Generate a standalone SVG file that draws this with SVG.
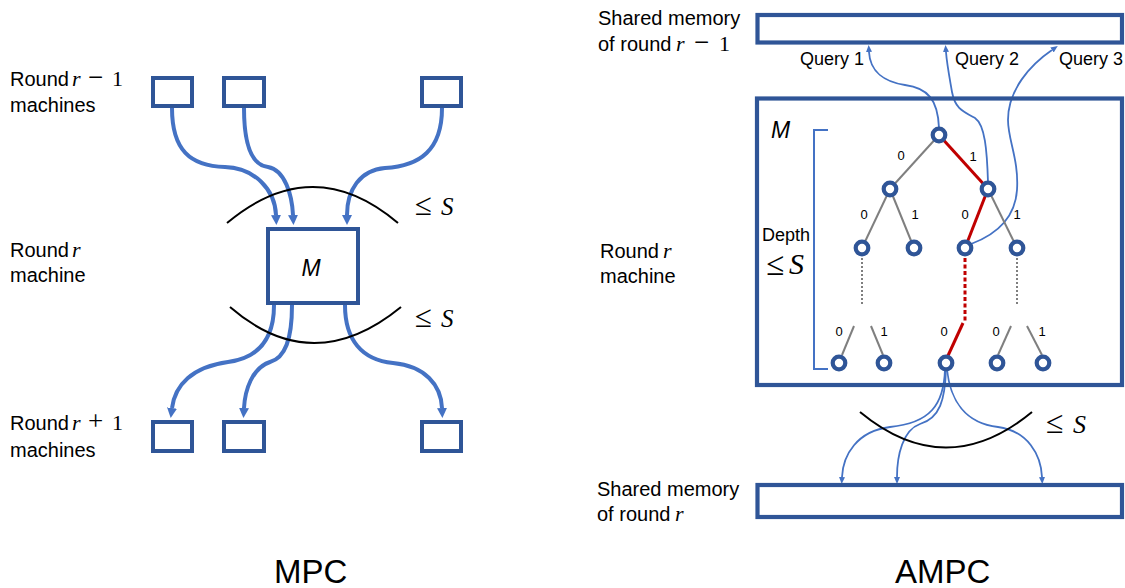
<svg xmlns="http://www.w3.org/2000/svg" width="1125" height="588" viewBox="0 0 1125 588">
<style>
.t{font-family:"Liberation Sans",Arial,sans-serif;font-size:20px;fill:#000}
.m{font-family:"Liberation Serif","Times New Roman",serif;font-style:italic;font-size:22px}
.mn{font-family:"Liberation Serif","Times New Roman",serif;font-style:normal;font-size:22px}
.op{font-family:"Liberation Serif","Times New Roman",serif;font-style:normal;font-size:27px}
.le{font-family:"Liberation Serif","Times New Roman",serif;font-size:31px;fill:#000}
.s{font-family:"Liberation Serif","Times New Roman",serif;font-style:italic;font-size:25px;fill:#000}
.q{font-family:"Liberation Sans",Arial,sans-serif;font-size:18px;fill:#000}
.d{font-family:"Liberation Sans",Arial,sans-serif;font-size:13px;fill:#000;text-anchor:middle}
.title{font-family:"Liberation Sans",Arial,sans-serif;font-size:33px;fill:#000}
.mi{font-family:"Liberation Sans",Arial,sans-serif;font-style:italic;font-size:23px;fill:#000}
.box{fill:none;stroke:#2F5597;stroke-width:4}
.big{fill:none;stroke:#2F5597;stroke-width:4.2}
.thick{fill:none;stroke:#4472C4;stroke-width:4}
.thin{fill:none;stroke:#4472C4;stroke-width:1.8}
.arc{fill:none;stroke:#000;stroke-width:2}
.g{stroke:#7F7F7F;stroke-width:2;fill:none}
.r{stroke:#C00000;stroke-width:3;fill:none}
.node{fill:#fff;stroke:#2F5597;stroke-width:4.2}
</style>
<defs>
<marker id="ah" viewBox="0 0 10 10" refX="0" refY="5" markerWidth="10" markerHeight="10" markerUnits="userSpaceOnUse" orient="auto"><path d="M0,0 L10,5 L0,10 z" fill="#4472C4"/></marker>
<marker id="as" viewBox="0 0 7 6" refX="0" refY="3" markerWidth="7" markerHeight="6" markerUnits="userSpaceOnUse" orient="auto"><path d="M0,0 L7,3 L0,6 z" fill="#4472C4"/></marker>
</defs>
<rect width="1125" height="588" fill="#fff"/>

<g id="connectors">
<path class="thick" marker-end="url(#ah)" d="M172,108 C172,150 190,166 225,167 C255,168 275,190 276,215"/>
<path class="thick" marker-end="url(#ah)" d="M244,108 C244,140 250,165 268,167 C285,170 292,195 293,215"/>
<path class="thick" marker-end="url(#ah)" d="M442,108 C442,150 420,166 385,168 C360,170 347,190 347,215"/>
<path class="thick" marker-end="url(#ah)" d="M274,305 C274,340 258,358 228,362 C192,367 175,385 172,408"/>
<path class="thick" marker-end="url(#ah)" d="M292,305 C292,340 285,358 270,362 C252,368 245,390 244,408"/>
<path class="thick" marker-end="url(#ah)" d="M345,305 C345,340 362,360 393,363 C425,366 441,385 442,408"/>
<path class="thin" marker-end="url(#as)" d="M939,128 C938,100 928,88 905,85 C885,82 870,72 869,52"/>
<path class="thin" marker-end="url(#as)" d="M988,182 C987,150 985,125 975,118 C962,111 955,108 952,92 C950,80 947,65 946,52"/>
<path class="thin" marker-end="url(#as)" d="M971,244 C995,235 1015,220 1017,190 C1019,160 1008,140 1008,120 C1008,90 1030,65 1052,50"/>
<path class="thin" marker-end="url(#as)" d="M945,369 C944,405 930,423 890,427 C857,431 843,455 842,477"/>
<path class="thin" marker-end="url(#as)" d="M946,369 C945,400 940,418 920,424 C903,430 897,455 897,477"/>
<path class="thin" marker-end="url(#as)" d="M947,369 C950,400 965,423 998,427 C1028,431 1041,455 1042,477"/>
<line class="g" x1="939" y1="135" x2="890" y2="189"/>
<line class="r" x1="939" y1="135" x2="988" y2="189"/>
<line class="g" x1="890" y1="189" x2="862" y2="248"/>
<line class="g" x1="890" y1="189" x2="914" y2="248"/>
<line class="r" x1="988" y1="189" x2="965" y2="248"/>
<line class="g" x1="988" y1="189" x2="1017" y2="248"/>
<line class="g" x1="862" y1="258" x2="862" y2="306" stroke-width="1.6" stroke-dasharray="2,2"/>
<line class="r" x1="965" y1="258" x2="965" y2="322" stroke-dasharray="4,2.5"/>
<line class="g" x1="1017" y1="258" x2="1017" y2="306" stroke-width="1.6" stroke-dasharray="2,2"/>
<line class="g" x1="854" y1="326" x2="842" y2="355"/>
<line class="g" x1="871" y1="326" x2="883" y2="355"/>
<line class="r" x1="963" y1="323" x2="946" y2="360"/>
<line class="g" x1="1011" y1="326" x2="998" y2="355"/>
<line class="g" x1="1027" y1="326" x2="1042" y2="355"/>
</g>

<g id="arcs">
<path class="arc" d="M227,223 Q313,151 398,223"/>
<path class="arc" d="M230,307 Q313,379 401,307"/>
<path class="arc" d="M860,412 Q946,483 1032,412"/>
</g>

<g id="labels-left">
<text class="t" x="10" y="86">Round</text>
<text class="m" x="72" y="86">r</text>
<text class="op" x="88" y="86">−</text>
<text class="mn" x="112" y="86">1</text>
<text class="t" x="10" y="112">machines</text>
<text class="t" x="10" y="257">Round</text>
<text class="m" x="72" y="257">r</text>
<text class="t" x="10" y="282">machine</text>
<text class="t" x="10" y="430">Round</text>
<text class="m" x="72" y="430">r</text>
<text class="op" x="88" y="430">+</text>
<text class="mn" x="112" y="430">1</text>
<text class="t" x="10" y="457">machines</text>
<text class="le" x="415" y="215">≤</text>
<text class="s" x="441" y="215">S</text>
<text class="le" x="415" y="327">≤</text>
<text class="s" x="441" y="327">S</text>
<text class="title" x="274" y="583">MPC</text>
</g>
<g id="prev1"><rect class="box" x="153" y="78" width="39" height="28"/></g>
<g id="prev2"><rect class="box" x="224" y="78" width="40" height="28"/></g>
<g id="prev3"><rect class="box" x="422" y="78" width="39" height="28"/></g>
<g id="mpc-m"><rect class="box" x="268" y="229" width="90" height="74"/>
<text class="mi" x="311" y="276" text-anchor="middle">M</text></g>
<g id="next1"><rect class="box" x="153" y="422" width="39" height="29"/></g>
<g id="next2"><rect class="box" x="224" y="422" width="40" height="29"/></g>
<g id="next3"><rect class="box" x="422" y="422" width="39" height="29"/></g>

<g id="labels-right">
<text class="t" x="598" y="25">Shared memory</text>
<text class="t" x="598" y="51">of round</text>
<text class="m" x="676" y="51">r</text>
<text class="op" x="694" y="51">−</text>
<text class="mn" x="719" y="51">1</text>
<text class="q" x="800" y="65">Query 1</text>
<text class="q" x="955" y="65">Query 2</text>
<text class="q" x="1059" y="65">Query 3</text>
<text class="t" x="600" y="258">Round</text>
<text class="m" x="663" y="258">r</text>
<text class="t" x="600" y="283">machine</text>
<text class="t" x="597" y="496">Shared memory</text>
<text class="t" x="597" y="521">of round</text>
<text class="m" x="675" y="521">r</text>
<text class="le" x="1046" y="433" style="font-size:32px">≤</text>
<text class="s" x="1073" y="433" style="font-size:26px">S</text>
<text class="title" x="895" y="583">AMPC</text>
</g>
<g id="mem-prev"><rect class="big" x="757.5" y="15" width="364.5" height="27.5"/></g>
<g id="mem-cur"><rect class="big" x="757.5" y="485" width="364.5" height="32"/></g>
<g id="ampc-m">
<rect class="big" x="757" y="98.5" width="365" height="286.5"/>
<text class="mi" x="771" y="138">M</text>
<path d="M828,130 L814,130 L814,369 L828,369" fill="none" stroke="#4472C4" stroke-width="2"/>
<text class="t" x="762" y="241" style="font-size:18px">Depth</text>
<text class="le" x="766" y="275" style="font-size:33px">≤</text>
<text class="s" x="789" y="274" style="font-size:30px">S</text>
</g>
<g id="tree">
<circle class="node" cx="939" cy="135" r="6.3"/>
<circle class="node" cx="890" cy="189" r="6.3"/>
<circle class="node" cx="988" cy="189" r="6.3"/>
<circle class="node" cx="862" cy="248" r="6.3"/>
<circle class="node" cx="914" cy="248" r="6.3"/>
<circle class="node" cx="965" cy="248" r="6.3"/>
<circle class="node" cx="1017" cy="248" r="6.3"/>
<circle class="node" cx="839" cy="363" r="6.3"/>
<circle class="node" cx="884" cy="363" r="6.3"/>
<circle class="node" cx="946" cy="363" r="6.3"/>
<circle class="node" cx="997" cy="363" r="6.3"/>
<circle class="node" cx="1043" cy="363" r="6.3"/>
<text class="d" x="901" y="160">0</text>
<text class="d" x="973" y="161">1</text>
<text class="d" x="864" y="219">0</text>
<text class="d" x="915" y="219">1</text>
<text class="d" x="965" y="219">0</text>
<text class="d" x="1017" y="219">1</text>
<text class="d" x="839" y="336">0</text>
<text class="d" x="884" y="336">1</text>
<text class="d" x="944" y="336">0</text>
<text class="d" x="996" y="336">0</text>
<text class="d" x="1042" y="336">1</text>
</g>
</svg>
